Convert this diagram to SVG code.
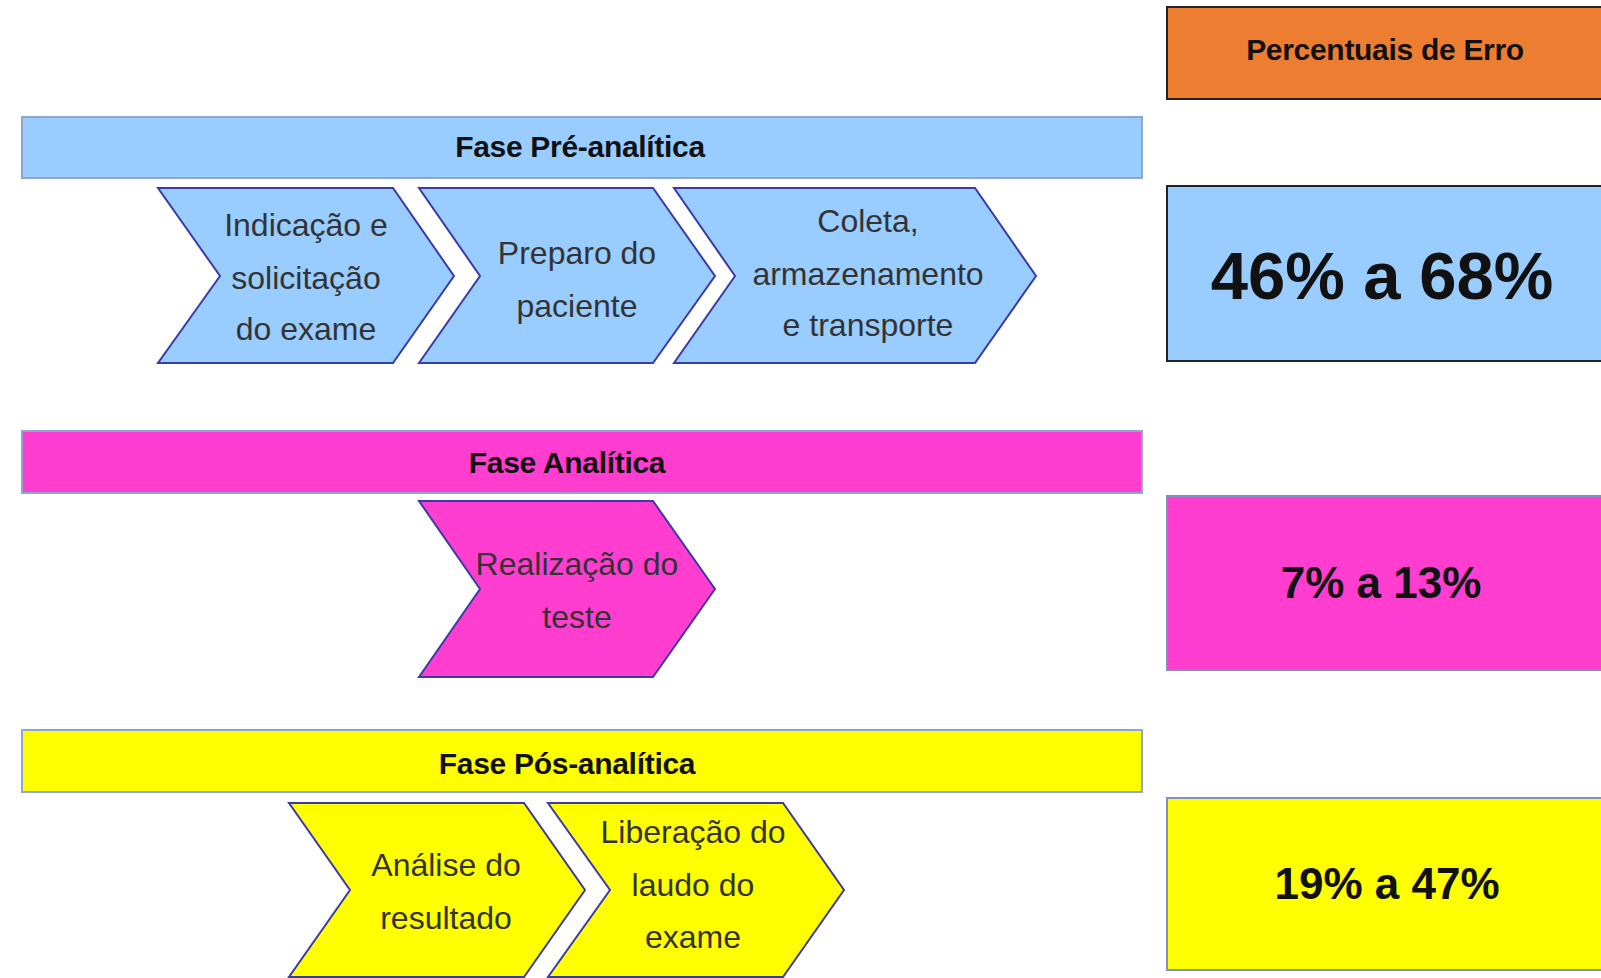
<svg xmlns="http://www.w3.org/2000/svg" width="1601" height="978" viewBox="0 0 1601 978">
<style>
.chev{stroke:#3a3aa8;stroke-width:2;stroke-linejoin:miter}
.bar{stroke:#8ea6d0;stroke-width:2}
.t{font-family:"Liberation Sans",Arial,sans-serif;font-size:32px;fill:#333;text-anchor:middle}
.tt{font-family:"Liberation Sans",Arial,sans-serif;font-size:30px;font-weight:bold;fill:#111;text-anchor:middle;letter-spacing:-0.3px}
.pc{font-family:"Liberation Sans",Arial,sans-serif;font-weight:bold;fill:#111;text-anchor:middle}
</style>
<rect width="1601" height="978" fill="#fff"/>
<g id="header">
<rect x="1167" y="7" width="445" height="92" fill="#ed7d31" stroke="#222" stroke-width="2"/>
<text class="tt" x="1385" y="60">Percentuais de Erro</text>
</g>
<g id="fase-pre">
<rect class="bar" x="22" y="117" width="1120" height="61" fill="#99ccff"/>
<text class="tt" x="580" y="157">Fase Pré-analítica</text>
</g>
<g id="indicacao">
<path class="chev" fill="#99ccff" d="M158,188 L393,188 L454,276 L393,363 L158,363 L220,276 Z"/>
<text class="t" x="306" y="236">Indicação e</text>
<text class="t" x="306" y="289">solicitação</text>
<text class="t" x="306" y="340">do exame</text>
</g>
<g id="preparo">
<path class="chev" fill="#99ccff" d="M419,188 L653,188 L715,276 L653,363 L419,363 L480,276 Z"/>
<text class="t" x="577" y="264">Preparo do</text>
<text class="t" x="577" y="317">paciente</text>
</g>
<g id="coleta">
<path class="chev" fill="#99ccff" d="M674,188 L975,188 L1036,276 L975,363 L674,363 L735,276 Z"/>
<text class="t" x="868" y="232">Coleta,</text>
<text class="t" x="868" y="285">armazenamento</text>
<text class="t" x="868" y="336">e transporte</text>
</g>
<g id="pct-pre">
<rect x="1167" y="186" width="445" height="175" fill="#99ccff" stroke="#222" stroke-width="2"/>
<text class="pc" x="1382" y="299" font-size="67">46% a 68%</text>
</g>
<g id="fase-analitica">
<rect class="bar" x="22" y="431" width="1120" height="62" fill="#ff3dcf"/>
<text class="tt" x="567" y="473">Fase Analítica</text>
</g>
<g id="realizacao">
<path class="chev" fill="#ff3dcf" d="M419,501 L653,501 L715,589 L653,677 L419,677 L480,589 Z"/>
<text class="t" x="577" y="575">Realização do</text>
<text class="t" x="577" y="628">teste</text>
</g>
<g id="pct-analitica">
<rect x="1167" y="496" width="445" height="174" fill="#ff3dcf" stroke="#7f8fbf" stroke-width="2"/>
<text class="pc" x="1381" y="598" font-size="44">7% a 13%</text>
</g>
<g id="fase-pos">
<rect class="bar" x="22" y="730" width="1120" height="62" fill="#ffff00"/>
<text class="tt" x="567" y="774">Fase Pós-analítica</text>
</g>
<g id="analise">
<path class="chev" fill="#ffff00" d="M289,803 L524,803 L585,890 L524,977 L289,977 L350,890 Z"/>
<text class="t" x="446" y="876">Análise do</text>
<text class="t" x="446" y="929">resultado</text>
</g>
<g id="liberacao">
<path class="chev" fill="#ffff00" d="M548,803 L783,803 L844,890 L783,977 L548,977 L610,890 Z"/>
<text class="t" x="693" y="843">Liberação do</text>
<text class="t" x="693" y="896">laudo do</text>
<text class="t" x="693" y="948">exame</text>
</g>
<g id="pct-pos">
<rect x="1167" y="798" width="445" height="172" fill="#ffff00" stroke="#7f8fbf" stroke-width="2"/>
<text class="pc" x="1387" y="899" font-size="44">19% a 47%</text>
</g>
<g id="connectors"/>
</svg>
